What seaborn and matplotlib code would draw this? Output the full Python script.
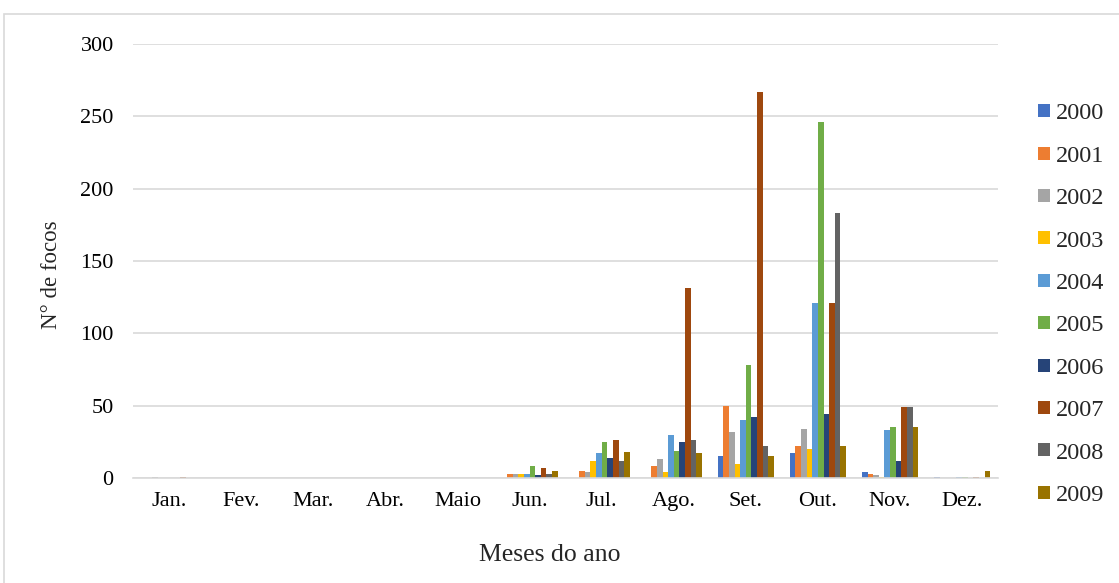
import matplotlib
matplotlib.use("Agg")
import matplotlib.pyplot as plt
from matplotlib.patches import Rectangle
import pandas as pd
import seaborn as sns

meses = ['Jan.', 'Fev.', 'Mar.', 'Abr.', 'Maio', 'Jun.',
         'Jul.', 'Ago.', 'Set.', 'Out.', 'Nov.', 'Dez.']
anos = ['2000', '2001', '2002', '2003', '2004',
        '2005', '2006', '2007', '2008', '2009']

# focos por mes (Jan..Dez), um array por ano
focos_2000 = [0, 0, 0, 0, 0, 0, 0, 0, 15, 17, 4, 1]
focos_2001 = [0, 0, 0, 0, 0, 3, 5, 8, 50, 22, 3, 0]
focos_2002 = [1, 0, 0, 0, 0, 3, 4, 13, 32, 34, 2, 0]
focos_2003 = [0, 0, 0, 0, 0, 3, 12, 4, 10, 20, 1, 0]
focos_2004 = [0, 0, 0, 0, 0, 3, 17, 30, 40, 121, 33, 1]
focos_2005 = [0, 0, 0, 0, 0, 8, 25, 19, 78, 246, 35, 1]
focos_2006 = [0, 0, 0, 0, 0, 2, 14, 25, 42, 44, 12, 0]
focos_2007 = [1, 0, 0, 0, 0, 7, 26, 131, 267, 121, 49, 1]
focos_2008 = [0, 0, 0, 0, 0, 3, 12, 26, 22, 183, 49, 0]
focos_2009 = [0, 0, 0, 0, 0, 5, 18, 17, 15, 22, 35, 5]

series = [focos_2000, focos_2001, focos_2002, focos_2003, focos_2004,
          focos_2005, focos_2006, focos_2007, focos_2008, focos_2009]

cores = ['#4472C4', '#ED7D31', '#A5A5A5', '#FFC000', '#5B9BD5',
         '#70AD47', '#264478', '#9E480E', '#636363', '#997300']

linhas = []
for ano, vals in zip(anos, series):
    for mes, v in zip(meses, vals):
        linhas.append({'mes': mes, 'ano': ano, 'focos': v})
df = pd.DataFrame(linhas)

sns.set_style("white")
plt.rcParams['font.family'] = ['Liberation Serif', 'DejaVu Serif']

fig = plt.figure(figsize=(11.19, 5.83), dpi=100)
ax = fig.add_axes([0.119, 0.180, 0.773, 0.745])

sns.barplot(data=df, x='mes', y='focos', hue='ano', order=meses,
            hue_order=anos, palette=cores, width=0.78, saturation=1,
            edgecolor='none', linewidth=0, ax=ax)

ax.set_ylim(0, 300)
ax.set_yticks(range(0, 301, 50))
ax.set_xlim(-0.5, len(meses) - 0.5)
ax.yaxis.grid(True, color='#d9d9d9', linewidth=1.2)
ax.set_axisbelow(True)
for s in ['left', 'right', 'top']:
    ax.spines[s].set_visible(False)
ax.spines['bottom'].set_color('#d9d9d9')
ax.spines['bottom'].set_linewidth(1.2)
ax.tick_params(axis='both', length=0, labelsize=16, colors='black')
ax.tick_params(axis='y', pad=14)
ax.tick_params(axis='x', pad=10)
ax.set_xlabel('Meses do ano', fontsize=18.5)
ax.set_ylabel('N° de focos', fontsize=16.5)
ax.xaxis.set_label_coords(0.482, -0.152)
ax.yaxis.set_label_coords(-0.082, 0.468)

handles, labels = ax.get_legend_handles_labels()
ax.legend(handles, labels, loc='upper left', bbox_to_anchor=(1.035, 0.885),
          frameon=False, fontsize=17.5, labelspacing=0.88,
          handlelength=0.5, handleheight=0.45, handletextpad=0.25,
          borderaxespad=0)

fig.patches.append(Rectangle((4 / 1119, -0.01), 1.0, 0.986,
                             transform=fig.transFigure, fill=False,
                             edgecolor='#d9d9d9', linewidth=1.2))

fig.savefig('out.png', dpi=100)
